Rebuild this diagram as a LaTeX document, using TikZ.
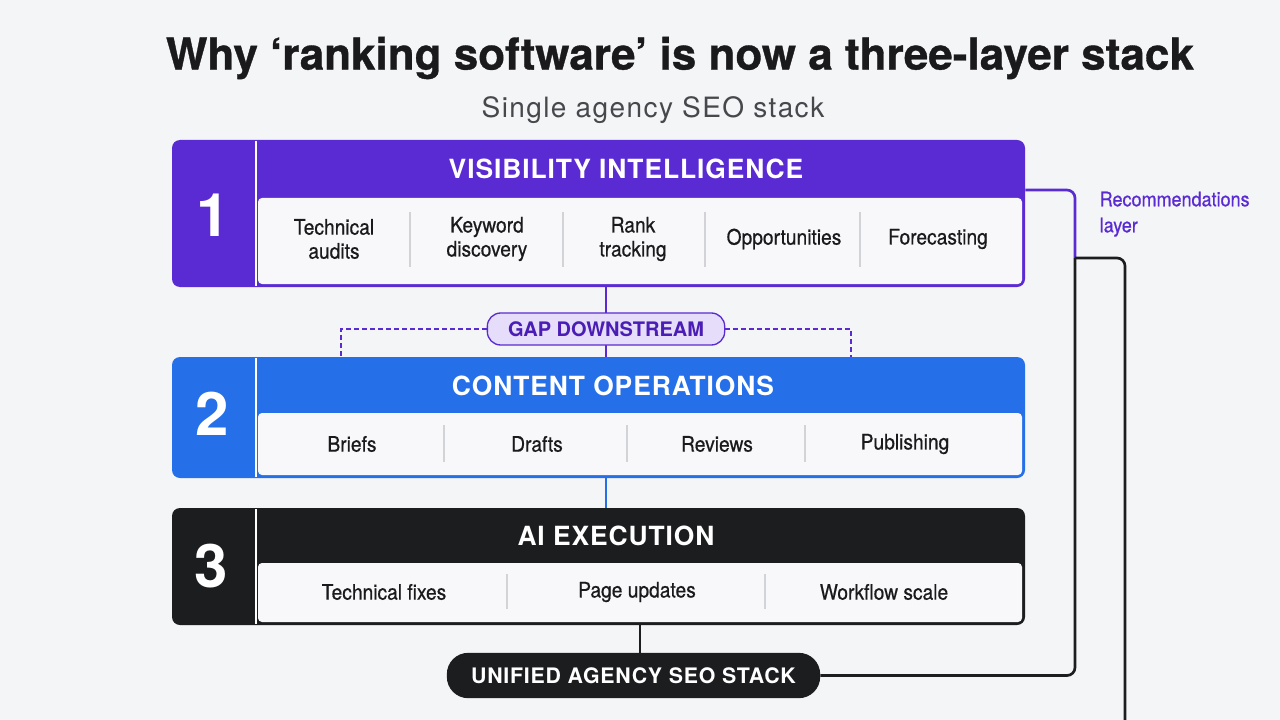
\documentclass[tikz,border=0pt]{standalone}
\usepackage{fontspec}
\setmainfont{TeX Gyre Heros}
\newfontfamily\itemfont[FakeStretch=0.9, FakeBold=0.6]{TeX Gyre Heros}
\newfontfamily\capsfont[LetterSpace=3.5]{TeX Gyre Heros}
\newfontfamily\subfont[LetterSpace=5]{TeX Gyre Heros}
\newfontfamily\titlefont[FakeBold=0.8]{TeX Gyre Heros Bold}
\usetikzlibrary{fit}

\definecolor{bgcol}{HTML}{F4F5F7}
\definecolor{vispurple}{HTML}{5A2BD2}
\definecolor{opsblue}{HTML}{2570E8}
\definecolor{aiblack}{HTML}{1B1D1F}
\definecolor{panelcol}{HTML}{F8F8FA}
\definecolor{sepgray}{HTML}{D2D3D7}
\definecolor{gapfill}{HTML}{E6DDFA}
\definecolor{gapink}{HTML}{4A1DB5}
\definecolor{subgray}{HTML}{46484C}
\definecolor{itemink}{HTML}{1A1A1C}

\tikzset{
  layerbox/.style={inner sep=0pt},
  numtext/.style={text=white, font=\bfseries\fontsize{45}{45}\selectfont},
  headtext/.style={text=white, font=\capsfont\bfseries\fontsize{19.8}{22}\selectfont},
  itemtext/.style={text=itemink, align=center, font=\itemfont\fontsize{16}{18}\selectfont},
  sepline/.style={sepgray, line width=1.1pt},
  link/.style={line width=2pt},
  dashlink/.style={vispurple, line width=1.3pt, dash pattern=on 3.5pt off 2.5pt},
  gappill/.style={fill=gapfill, draw=vispurple, line width=1pt, rounded corners=10pt,
    minimum width=178pt, minimum height=24pt, text=gapink,
    font=\bfseries\fontsize{15}{17}\selectfont},
  stackpill/.style={fill=aiblack, rounded corners=16pt, minimum width=280pt,
    minimum height=34pt, text=white, font=\capsfont\bfseries\fontsize{16}{18}\selectfont},
}

\begin{document}
\begin{tikzpicture}[x=0.75pt, y=-0.75pt]
        % Sfondo
        \fill[bgcol] (0,0) rectangle (1280,720);
        \useasboundingbox (0,0) rectangle (1280,720);

        % Titoli
        \node[font=\titlefont\fontsize{33}{36}\selectfont, text=itemink] (title) at (680,58) {Why ‘ranking software’ is now a three-layer stack};
        \node[font=\subfont\fontsize{21}{24}\selectfont, text=subgray] (subtitle) at (653,110) {Single agency SEO stack};

        % Livello 1: visibility intelligence
        \fill[vispurple, rounded corners=6pt] (172,140) rectangle (1025,287);
        \fill[panelcol, rounded corners=3pt] (258,198) rectangle (1022,284);
        \draw[white, line width=1.5pt] (255.5,141) -- (255.5,286);
        \node[layerbox, fit={(172,140) (1025,287)}] (vis) {};
        \node[numtext] (num1) at (213,215) {1};
        \node[headtext] (head1) at (626,169) {VISIBILITY INTELLIGENCE};
        \node[itemtext] (audits) at (334,239) {Technical\\audits};
        \node[itemtext] (keyword) at (487,239) {Keyword\\discovery};
        \node[itemtext] (rank) at (633,239) {Rank\\tracking};
        \node[itemtext] (opport) at (784,239) {Opportunities};
        \node[itemtext] (forecast) at (938,239) {Forecasting};
        \draw[sepline] (410,212) -- (410,267);
        \draw[sepline] (563,212) -- (563,267);
        \draw[sepline] (705,212) -- (705,267);
        \draw[sepline] (860,212) -- (860,267);

        % Livello 2: content operations
        \fill[opsblue, rounded corners=6pt] (172,357) rectangle (1025,478);
        \fill[panelcol, rounded corners=3pt] (258,413) rectangle (1022,475);
        \draw[white, line width=1.5pt] (255.5,358) -- (255.5,477);
        \node[layerbox, fit={(172,357) (1025,478)}] (ops) {};
        \node[numtext] (num2) at (212,414) {2};
        \node[headtext] (head2) at (613,386) {CONTENT OPERATIONS};
        \node[itemtext] (briefs) at (352,444) {Briefs};
        \node[itemtext] (drafts) at (537,444) {Drafts};
        \node[itemtext] (reviews) at (717,444) {Reviews};
        \node[itemtext] (publish) at (905,444) {Publishing};
        \draw[sepline] (444,425) -- (444,462);
        \draw[sepline] (627,425) -- (627,462);
        \draw[sepline] (805,425) -- (805,462);

        % Livello 3: AI execution
        \fill[aiblack, rounded corners=6pt] (172,508) rectangle (1025,625);
        \fill[panelcol, rounded corners=3pt] (258,563) rectangle (1022,622);
        \draw[white, line width=1.5pt] (255.5,509) -- (255.5,624);
        \node[layerbox, fit={(172,508) (1025,625)}] (exec) {};
        \node[numtext] (num3) at (211,566) {3};
        \node[headtext] (head3) at (616,536) {AI EXECUTION};
        \node[itemtext] (fixes) at (384,592) {Technical fixes};
        \node[itemtext] (updates) at (637,592) {Page updates};
        \node[itemtext] (scale) at (884,592) {Workflow scale};
        \draw[sepline] (507,574) -- (507,609);
        \draw[sepline] (765,574) -- (765,609);

        % Collegamenti tra i livelli
        \coordinate (mid) at (606,329);
        \draw[link, vispurple] (vis.south -| mid) -- (ops.north -| mid);
        \node[gappill] (gap) at (mid) {GAP DOWNSTREAM};
        \coordinate (dl) at (341,357);
        \coordinate (dr) at (851,357);
        \draw[dashlink] (gap.west) -| (dl);
        \draw[dashlink] (gap.east) -| (dr);
        \draw[link, opsblue] (ops.south -| mid) -- (exec.north -| mid);

        % Stack unificato
        \node[stackpill] (stack) at (633.5,675.5) {UNIFIED AGENCY SEO STACK};
        \draw[link, aiblack] (exec.south -| 640,0) -- (stack.north -| 640,0);

        % Ritorno verso il livello di raccomandazioni
        \coordinate (split) at (1075,258);
        \coordinate (exit) at (1125,720);
        \draw[link, vispurple, rounded corners=6pt] ([yshift=17.6pt]vis.east) -| (split);
        \draw[link, aiblack, rounded corners=6pt] (stack.east) -| (split);
        \draw[link, aiblack, rounded corners=6pt] (split) -| (exit);
        \node[anchor=north west, align=left, text=vispurple, font=\itemfont\fontsize{15}{19.5}\selectfont] (reclabel) at (1095,187) {Recommendations\\layer};
\end{tikzpicture}
\end{document}
